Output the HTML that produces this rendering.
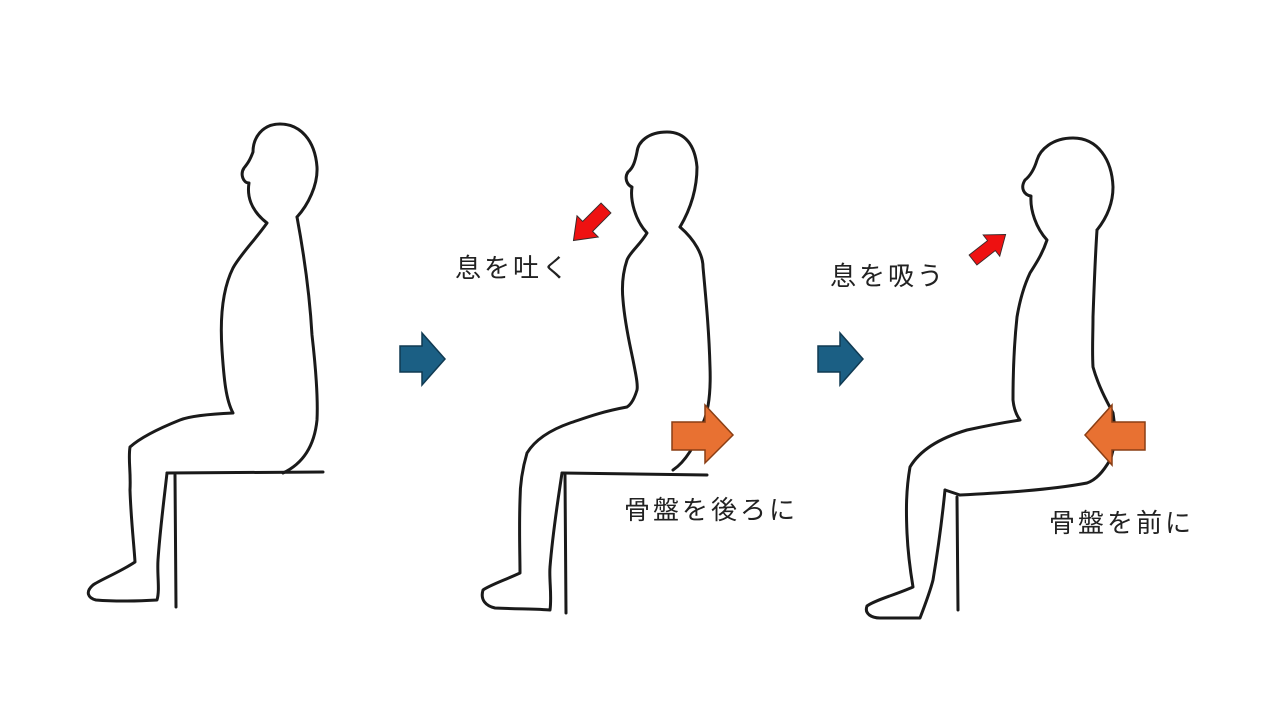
<!DOCTYPE html>
<html><head><meta charset="utf-8"><style>
html,body{margin:0;padding:0;background:#fff;width:1280px;height:720px;overflow:hidden}
svg{position:absolute;left:0;top:0}
.t{font-family:"Liberation Sans","Noto Sans CJK JP",sans-serif;font-size:26px;fill:#222;letter-spacing:3px}
.p{fill:none;stroke:#1a1a1a;stroke-width:3;stroke-linecap:round;stroke-linejoin:round}
</style></head><body>
<svg width="1280" height="720" viewBox="0 0 1280 720">
<defs>
<path id="ra" d="M0,-7 L26,-7 L26,-15 L46,0 L26,15 L26,7 L0,7 Z" fill="#ee1111" stroke="#3a2a2a" stroke-width="1"/>
</defs>
<!-- Figure 1 -->
<path class="p" d="M297,217 C308,205 318,185 317,167 C315,140 300,124 280,124 C262,124 253,138 253,152 C250,160 248,163 244,168 C240,174 243,183 249,183 C247,195 250,210 267,223 C255,240 240,255 233,268 C222,290 220,320 222,350 C224,380 226,400 233,413 C210,414 190,416 180,420 C160,428 140,438 130,447 C128,460 131,470 130,490 C131,520 134,545 135,562 C120,572 100,580 93,585 C85,592 88,598 96,600 C120,602 140,601 157,600 C160,590 157,575 158,560 C160,530 164,500 167,473"/>
<path class="p" d="M297,217 C305,260 310,300 312,335 C316,370 318,400 317,420 C314,450 300,465 283,473"/>
<path class="p" d="M167,473 L323,472"/>
<path class="p" d="M175,475 L176,607"/>
<!-- Blue arrows -->
<path d="M400,346 L422,346 L422,333 L445,359 L422,385 L422,372 L400,372 Z" fill="#1b5f84" stroke="#103a52" stroke-width="1.5"/>
<path d="M818,346 L840,346 L840,333 L863,359 L840,385 L840,372 L818,372 Z" fill="#1b5f84" stroke="#103a52" stroke-width="1.5"/>
<!-- Figure 2 -->
<path class="p" d="M680,227 C690,210 697,190 697,167 C695,145 685,132 667,132 C648,132 638,142 637,152 C635,162 633,168 628,172 C624,178 627,185 632,187 C630,200 635,220 647,233 C640,245 630,252 627,260 C622,275 622,290 623,300 C625,325 630,345 633,360 C636,375 638,385 637,390 C634,400 630,405 627,407 C600,412 585,418 570,423 C550,430 535,440 527,453 C522,470 520,485 520,500 C519,530 520,555 520,573 C505,580 490,585 483,590 C480,600 486,606 495,608 C520,609 540,609 550,610 C552,595 549,580 550,567 C553,530 558,500 562,473"/>
<path class="p" d="M680,227 C695,240 703,255 703,267 C706,300 709,330 710,367 C711,395 708,412 703,423 C696,445 685,462 673,470"/>
<path class="p" d="M562,473 L707,475"/>
<path class="p" d="M565,475 L566,613"/>
<use href="#ra" transform="translate(606,208) rotate(135)"/>
<path d="M672,422 L705,422 L705,405 L733,435 L705,463 L705,450 L672,450 Z" fill="#e87132" stroke="#8a3e14" stroke-width="1.5"/>
<text class="t" x="455" y="277">息を吐く</text>
<text class="t" x="624" y="519">骨盤を後ろに</text>
<!-- Figure 3 -->
<path class="p" d="M1097,230 C1105,220 1113,205 1113,187 C1112,160 1098,138 1073,138 C1052,138 1040,150 1037,160 C1034,170 1030,176 1025,180 C1020,188 1024,195 1031,196 C1030,210 1036,228 1047,240 C1042,255 1035,265 1030,273 C1022,290 1019,305 1017,317 C1014,345 1013,375 1013,400 C1014,410 1017,416 1020,420 C1000,423 985,426 967,430 C940,438 920,450 910,467 C906,490 906,510 907,533 C908,555 911,575 913,587 C895,595 875,600 867,606 C864,614 872,618 880,618 C895,618 910,618 920,618 C925,605 930,592 933,580 C938,550 942,520 945,490"/>
<path class="p" d="M1097,230 C1095,260 1094,290 1093,317 C1093,335 1092,350 1093,367 C1098,385 1106,400 1113,413 C1116,430 1115,448 1110,460 C1103,472 1096,480 1087,483 C1050,490 1000,493 960,495"/>
<path class="p" d="M945,490 L960,495"/>
<path class="p" d="M957,497 L958,610"/>
<use href="#ra" transform="translate(973,260) rotate(-38) scale(0.9)"/>
<path d="M1145,422 L1112,422 L1112,405 L1085,435 L1112,465 L1112,450 L1145,450 Z" fill="#e87132" stroke="#8a3e14" stroke-width="1.5"/>
<text class="t" x="830" y="285">息を吸う</text>
<text class="t" x="1049" y="532">骨盤を前に</text>
</svg>
</body></html>
